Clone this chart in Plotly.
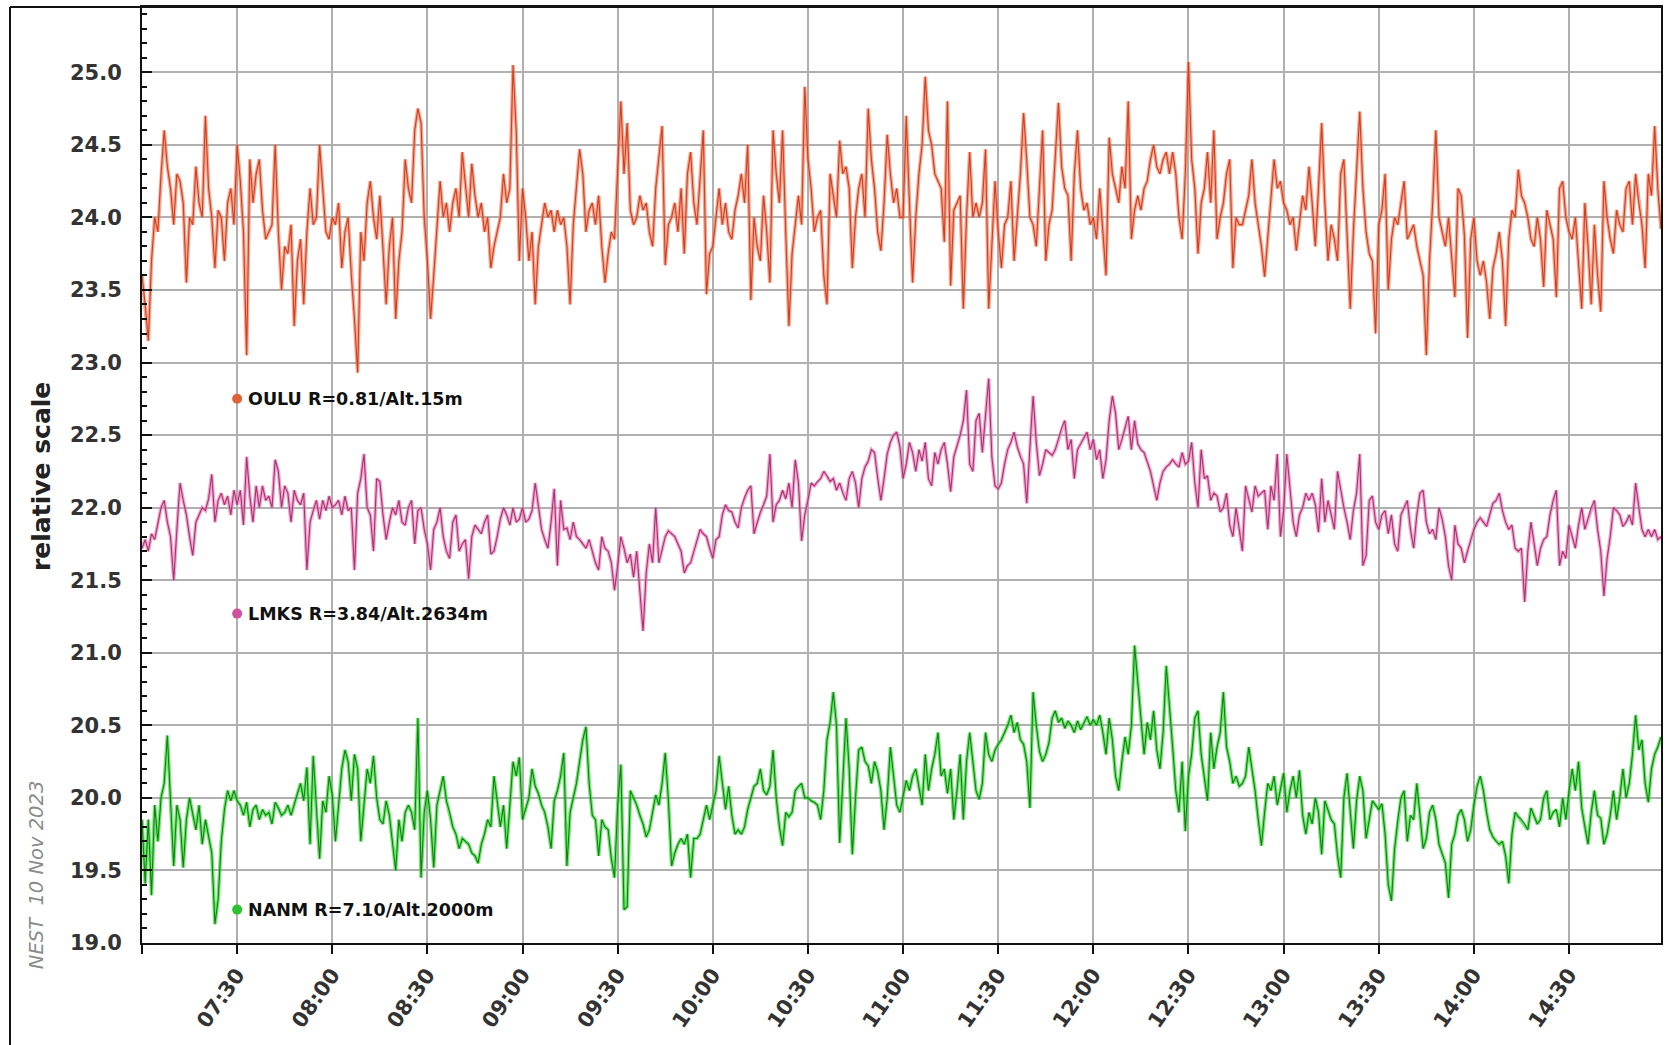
import pandas as pd
import plotly.graph_objects as go

# ---- one-minute station readings, 07:00 .. 14:59 (one row per half hour) ----
oulu = [
    23.6, 23.4, 23.15, 23.7, 24.0, 23.9, 24.3, 24.6, 24.35, 24.2, 23.95, 24.3, 24.25, 24.1, 23.55, 24.0, 23.95, 24.35, 24.1, 24.0, 24.7, 24.2, 24.0, 23.65, 24.05, 24.0, 23.7, 24.1, 24.2, 23.95,
    24.5, 24.25, 23.9, 23.05, 24.4, 24.1, 24.3, 24.4, 24.05, 23.85, 23.9, 23.95, 24.5, 23.9, 23.5, 23.8, 23.75, 23.95, 23.25, 23.7, 23.85, 23.4, 23.9, 24.2, 23.95, 24.0, 24.5, 24.2, 23.9, 23.85,
    24.0, 23.95, 24.1, 23.65, 23.9, 24.0, 23.6, 23.3, 22.93, 23.9, 23.7, 24.1, 24.25, 24.0, 23.85, 24.15, 23.8, 23.4, 23.8, 24.0, 23.3, 23.7, 23.9, 24.4, 24.2, 24.1, 24.6, 24.75, 24.65, 24.0,
    23.7, 23.3, 23.6, 23.9, 24.25, 24.0, 24.1, 23.9, 24.1, 24.2, 24.0, 24.45, 24.2, 24.0, 24.37, 24.15, 24.0, 24.1, 23.9, 24.0, 23.65, 23.8, 23.9, 24.0, 24.3, 24.1, 24.2, 25.05, 24.6, 23.7,
    24.2, 24.0, 23.7, 23.9, 23.4, 23.8, 23.95, 24.1, 24.0, 24.05, 23.9, 24.05, 23.95, 24.0, 23.8, 23.4, 23.95, 24.2, 24.47, 24.3, 23.9, 24.05, 24.1, 23.95, 24.15, 23.8, 23.55, 23.75, 23.9, 23.85,
    24.3, 24.8, 24.3, 24.65, 24.05, 23.95, 24.0, 24.15, 24.05, 24.1, 23.9, 23.8, 24.2, 24.4, 24.63, 23.67, 23.95, 24.0, 24.1, 23.9, 24.2, 23.75, 24.3, 24.45, 24.1, 23.95, 24.3, 24.6, 23.47, 23.75,
    23.8, 24.0, 24.2, 23.95, 24.1, 23.9, 23.85, 24.05, 24.15, 24.3, 24.1, 24.5, 23.43, 24.0, 23.8, 23.7, 24.15, 23.9, 23.55, 24.6, 24.3, 24.1, 24.6, 23.9, 23.25, 23.75, 23.95, 24.15, 23.95, 24.9,
    24.4, 24.2, 23.9, 24.0, 24.05, 23.6, 23.4, 24.3, 24.15, 24.0, 24.53, 24.3, 24.35, 24.2, 23.65, 24.0, 24.2, 24.3, 24.0, 24.75, 24.4, 24.2, 23.9, 23.77, 24.1, 24.57, 24.3, 24.1, 24.2, 24.0,
    24.0, 24.7, 24.1, 23.55, 24.0, 24.3, 24.5, 24.97, 24.6, 24.5, 24.3, 24.25, 24.2, 23.83, 24.8, 23.53, 24.05, 24.1, 24.15, 23.37, 24.0, 24.45, 24.0, 24.1, 24.0, 24.1, 24.47, 23.37, 23.8, 24.25,
    23.9, 23.65, 23.95, 24.0, 24.25, 23.7, 24.0, 24.3, 24.72, 24.4, 24.0, 23.95, 23.8, 24.2, 24.6, 23.7, 23.95, 24.05, 24.4, 24.79, 24.35, 24.2, 24.15, 23.7, 24.3, 24.6, 24.2, 24.05, 24.1, 23.95,
    24.0, 23.85, 24.2, 23.9, 23.6, 24.55, 24.3, 24.2, 24.1, 24.35, 24.2, 24.8, 23.85, 24.05, 24.15, 24.05, 24.2, 24.25, 24.4, 24.5, 24.35, 24.3, 24.4, 24.45, 24.3, 24.45, 24.3, 24.0, 23.85, 24.3,
    25.07, 24.4, 24.2, 23.75, 24.1, 24.2, 24.45, 24.1, 24.6, 23.85, 24.0, 24.1, 24.3, 24.4, 23.65, 24.0, 23.95, 23.95, 24.05, 24.15, 24.4, 24.1, 23.95, 23.8, 23.59, 23.85, 24.15, 24.4, 24.2, 24.25,
    24.1, 24.05, 23.95, 24.0, 23.77, 23.95, 24.15, 24.05, 24.35, 24.1, 23.8, 24.2, 24.65, 24.1, 23.7, 23.95, 23.85, 23.7, 24.3, 24.4, 23.9, 23.37, 23.9, 24.35, 24.73, 24.2, 23.9, 23.75, 23.7, 23.2,
    23.95, 24.05, 24.3, 23.5, 23.85, 24.0, 23.95, 24.1, 24.25, 23.85, 23.9, 23.95, 23.8, 23.7, 23.6, 23.05, 23.7, 24.1, 24.6, 24.0, 23.9, 23.8, 24.0, 23.7, 23.45, 24.2, 24.15, 23.88, 23.17, 23.85,
    24.0, 23.7, 23.6, 23.7, 23.55, 23.3, 23.65, 23.75, 23.9, 23.7, 23.25, 23.85, 24.05, 24.0, 24.33, 24.15, 24.1, 24.0, 23.85, 23.8, 24.0, 23.85, 23.52, 24.05, 23.95, 23.85, 23.45, 24.2, 24.25, 24.0,
    23.9, 23.85, 24.0, 23.7, 23.37, 24.1, 23.8, 23.4, 23.95, 23.6, 23.35, 24.25, 24.0, 23.85, 23.75, 24.05, 23.95, 23.9, 24.2, 24.25, 23.95, 24.3, 24.1, 23.95, 23.65, 24.3, 24.15, 24.63, 24.2, 23.92,
]

lmks = [
    21.72, 21.78, 21.7, 21.82, 21.78, 21.9, 22.0, 22.05, 21.9, 21.8, 21.5, 21.85, 22.17, 22.05, 21.95, 21.8, 21.67, 21.9, 21.95, 22.0, 21.98, 22.06, 22.23, 21.9, 22.05, 22.1, 22.02, 22.08, 21.95, 22.12,
    22.02, 22.12, 21.88, 22.35, 22.08, 21.9, 22.15, 22.0, 22.15, 22.05, 22.08, 22.0, 22.33, 22.25, 22.0, 22.15, 22.1, 21.9, 22.12, 22.05, 22.02, 22.1, 21.57, 21.9, 21.98, 22.05, 21.92, 22.05, 21.98, 22.08,
    22.0, 22.02, 22.05, 21.95, 22.08, 21.98, 22.0, 21.57, 22.1, 22.2, 22.37, 22.0, 21.95, 21.7, 22.2, 22.18, 21.95, 21.78, 21.9, 22.0, 21.95, 22.05, 21.9, 21.88, 22.0, 22.05, 21.75, 21.98, 22.0, 21.85,
    21.75, 21.57, 21.85, 21.9, 22.0, 21.8, 21.7, 21.65, 21.9, 21.95, 21.7, 21.75, 21.78, 21.51, 21.8, 21.88, 21.85, 21.82, 21.9, 21.95, 21.68, 21.7, 21.8, 21.92, 22.0, 21.95, 21.88, 22.0, 21.9, 21.92,
    22.0, 21.9, 21.92, 21.98, 22.17, 22.0, 21.85, 21.78, 21.72, 21.9, 22.13, 21.6, 22.05, 21.85, 21.86, 21.78, 21.9, 21.8, 21.78, 21.75, 21.72, 21.78, 21.7, 21.62, 21.57, 21.8, 21.72, 21.7, 21.62, 21.43,
    21.6, 21.8, 21.72, 21.62, 21.68, 21.52, 21.7, 21.45, 21.15, 21.55, 21.75, 21.62, 22.0, 21.62, 21.72, 21.8, 21.84, 21.82, 21.8, 21.75, 21.7, 21.55, 21.6, 21.62, 21.7, 21.77, 21.85, 21.82, 21.8, 21.72,
    21.65, 21.78, 21.8, 21.95, 22.02, 21.98, 21.97, 21.9, 21.86, 22.0, 22.07, 22.12, 22.15, 21.82, 21.9, 21.97, 22.02, 22.08, 22.37, 21.9, 22.02, 22.05, 22.12, 22.06, 22.17, 22.0, 22.33, 22.17, 21.77, 21.95,
    22.05, 22.17, 22.15, 22.18, 22.2, 22.25, 22.22, 22.18, 22.2, 22.12, 22.17, 22.1, 22.05, 22.2, 22.25, 22.17, 22.0, 22.2, 22.28, 22.32, 22.4, 22.38, 22.2, 22.05, 22.2, 22.37, 22.45, 22.5, 22.52, 22.42,
    22.2, 22.3, 22.45, 22.38, 22.25, 22.4, 22.32, 22.45, 22.2, 22.15, 22.38, 22.3, 22.4, 22.45, 22.3, 22.11, 22.35, 22.42, 22.5, 22.6, 22.81, 22.3, 22.25, 22.6, 22.65, 22.38, 22.65, 22.89, 22.35, 22.15,
    22.13, 22.17, 22.3, 22.4, 22.45, 22.52, 22.42, 22.35, 22.3, 22.03, 22.42, 22.77, 22.45, 22.22, 22.3, 22.4, 22.38, 22.36, 22.4, 22.47, 22.55, 22.6, 22.4, 22.47, 22.2, 22.4, 22.44, 22.48, 22.52, 22.4,
    22.47, 22.33, 22.4, 22.2, 22.33, 22.6, 22.77, 22.65, 22.4, 22.47, 22.55, 22.63, 22.4, 22.6, 22.44, 22.4, 22.38, 22.32, 22.25, 22.15, 22.05, 22.17, 22.25, 22.28, 22.3, 22.33, 22.3, 22.28, 22.38, 22.3,
    22.32, 22.45, 22.17, 22.0, 22.4, 22.2, 22.22, 22.05, 22.1, 22.08, 21.97, 22.0, 22.1, 21.88, 21.8, 22.0, 21.85, 21.7, 22.15, 22.05, 21.97, 22.15, 22.08, 22.1, 22.12, 21.85, 22.15, 22.05, 22.37, 21.8,
    21.98, 22.37, 22.12, 21.9, 21.8, 21.95, 22.0, 22.1, 22.05, 22.1, 22.02, 21.83, 22.2, 21.9, 22.05, 21.95, 21.85, 22.25, 22.12, 22.0, 21.9, 21.78, 21.98, 22.1, 22.37, 21.6, 21.67, 22.05, 22.08, 21.9,
    21.85, 21.95, 21.98, 21.82, 21.95, 21.75, 21.7, 21.95, 22.0, 22.05, 21.85, 21.72, 21.95, 22.1, 22.12, 21.9, 21.82, 21.85, 21.78, 22.0, 21.92, 21.8, 21.6, 21.5, 21.88, 21.75, 21.72, 21.62, 21.7, 21.78,
    21.85, 21.9, 21.93, 21.9, 21.87, 21.95, 22.03, 22.05, 22.1, 21.98, 21.9, 21.85, 21.88, 21.72, 21.7, 21.72, 21.35, 21.7, 21.9, 21.75, 21.6, 21.72, 21.78, 21.8, 21.95, 22.05, 22.12, 21.6, 21.7, 21.65,
    21.88, 21.8, 21.72, 21.88, 22.0, 21.85, 21.92, 22.0, 22.05, 21.85, 21.7, 21.39, 21.65, 21.8, 22.0, 21.98, 21.95, 21.87, 21.9, 21.95, 21.88, 22.17, 22.0, 21.85, 21.8, 21.85, 21.8, 21.85, 21.78, 21.8,
]

nanm = [
    19.85, 19.41, 19.85, 19.33, 19.95, 19.7, 20.0, 20.1, 20.43, 19.95, 19.53, 19.95, 19.85, 19.52, 19.85, 20.0, 19.88, 19.78, 19.95, 19.68, 19.85, 19.72, 19.62, 19.13, 19.3, 19.7, 19.92, 20.05, 19.98, 20.05,
    19.98, 19.95, 19.88, 19.97, 19.8, 19.92, 19.95, 19.85, 19.92, 19.88, 19.9, 19.82, 19.97, 19.93, 19.88, 19.9, 19.95, 19.88, 19.96, 20.03, 20.1, 19.98, 20.21, 19.68, 20.29, 19.9, 19.58, 19.98, 19.9, 20.15,
    20.02, 19.7, 19.95, 20.2, 20.33, 20.25, 19.98, 20.3, 20.2, 19.7, 19.95, 20.2, 20.1, 20.29, 20.0, 19.85, 19.82, 19.98, 19.88, 19.7, 19.5, 19.85, 19.7, 19.9, 19.95, 19.9, 19.78, 20.55, 19.45, 19.9,
    20.05, 19.85, 19.52, 19.95, 20.05, 20.15, 19.98, 19.9, 19.8, 19.75, 19.65, 19.72, 19.7, 19.68, 19.62, 19.6, 19.55, 19.68, 19.75, 19.85, 19.8, 20.15, 19.98, 19.8, 19.95, 19.65, 19.95, 20.25, 20.15, 20.28,
    19.85, 19.92, 20.0, 20.2, 20.08, 20.03, 19.95, 19.9, 19.8, 19.65, 19.98, 20.05, 20.15, 20.31, 19.53, 19.9, 20.0, 20.1, 20.25, 20.4, 20.49, 20.1, 19.88, 19.85, 19.6, 19.85, 19.8, 19.78, 19.58, 19.45,
    19.95, 20.23, 19.23, 19.25, 20.05, 20.0, 19.95, 19.88, 19.82, 19.73, 19.78, 19.9, 20.02, 19.95, 20.1, 20.31, 19.98, 19.53, 19.62, 19.68, 19.72, 19.68, 19.75, 19.45, 19.72, 19.72, 19.75, 19.85, 19.95, 19.85,
    19.95, 20.05, 20.29, 20.1, 19.92, 20.08, 19.88, 19.75, 19.78, 19.75, 19.8, 19.92, 20.0, 20.08, 20.1, 20.2, 20.05, 20.02, 20.08, 20.33, 20.0, 19.8, 19.67, 19.9, 19.87, 19.9, 20.05, 20.08, 20.1, 20.0,
    20.0, 19.98, 19.97, 19.95, 19.85, 20.05, 20.4, 20.52, 20.73, 20.5, 19.69, 20.1, 20.55, 20.2, 19.61, 20.0, 20.33, 20.35, 20.25, 20.22, 20.1, 20.25, 20.18, 20.05, 19.78, 20.0, 20.35, 20.15, 19.95, 19.9,
    20.0, 20.12, 20.05, 20.15, 20.2, 20.08, 19.95, 20.3, 20.05, 20.2, 20.3, 20.45, 20.15, 20.2, 20.03, 20.2, 19.85, 20.05, 20.3, 19.85, 20.25, 20.45, 20.25, 20.05, 19.99, 20.1, 20.45, 20.3, 20.25, 20.33,
    20.37, 20.4, 20.45, 20.5, 20.57, 20.45, 20.52, 20.4, 20.37, 20.25, 19.93, 20.73, 20.5, 20.32, 20.25, 20.3, 20.38, 20.55, 20.6, 20.52, 20.55, 20.48, 20.53, 20.5, 20.45, 20.53, 20.47, 20.52, 20.56, 20.5,
    20.54, 20.5, 20.57, 20.45, 20.3, 20.55, 20.4, 20.15, 20.05, 20.25, 20.42, 20.3, 20.5, 21.05, 20.8, 20.5, 20.3, 20.52, 20.4, 20.6, 20.33, 20.2, 20.45, 20.91, 20.65, 20.35, 20.05, 19.9, 20.25, 19.77,
    20.15, 20.3, 20.55, 20.6, 20.3, 20.15, 19.98, 20.45, 20.2, 20.35, 20.45, 20.73, 20.35, 20.25, 20.1, 20.15, 20.08, 20.1, 20.15, 20.35, 20.2, 20.05, 19.85, 19.67, 19.9, 20.1, 20.05, 20.15, 19.95, 20.05,
    20.17, 19.9, 20.05, 20.15, 20.0, 20.19, 19.88, 19.75, 19.9, 19.82, 20.0, 19.9, 19.61, 19.98, 19.92, 19.85, 19.82, 19.6, 19.45, 20.0, 20.17, 19.9, 19.65, 19.98, 20.15, 20.05, 19.72, 19.85, 19.98, 19.95,
    19.92, 19.96, 19.75, 19.4, 19.29, 19.65, 19.85, 20.0, 20.05, 19.7, 19.88, 19.85, 20.1, 19.88, 19.65, 19.72, 19.9, 19.95, 19.85, 19.68, 19.62, 19.55, 19.31, 19.68, 19.75, 19.88, 19.92, 19.85, 19.7, 19.78,
    19.95, 20.08, 20.15, 20.05, 19.9, 19.78, 19.73, 19.7, 19.68, 19.7, 19.6, 19.41, 19.75, 19.9, 19.87, 19.85, 19.82, 19.78, 19.93, 19.88, 19.82, 19.85, 20.0, 20.05, 19.85, 19.9, 19.92, 19.8, 20.0, 19.85,
    20.05, 20.2, 20.05, 20.25, 19.93, 19.8, 19.68, 19.9, 20.05, 19.88, 19.86, 19.68, 19.75, 19.88, 20.05, 19.85, 20.0, 20.2, 20.0, 20.1, 20.3, 20.57, 20.33, 20.4, 20.1, 19.97, 20.2, 20.3, 20.35, 20.42,
]

station_labels = ["OULU R=0.81/Alt.15m", "LMKS R=3.84/Alt.2634m", "NANM R=7.10/Alt.2000m"]
label_levels = [22.75, 21.27, 19.23]
tick_times = ["07:00", "07:30", "08:00", "08:30", "09:00", "09:30", "10:00", "10:30",
              "11:00", "11:30", "12:00", "12:30", "13:00", "13:30", "14:00", "14:30"]
day = "2023-11-10"

times = pd.date_range(f"{day} 07:00", periods=len(oulu), freq="1min")

series = [
    (oulu, "#cf3f22", "rgba(242,128,96,0.7)", "#e0603a"),
    (lmks, "#a8336f", "rgba(232,128,186,0.7)", "#d2509c"),
    (nanm, "#137f13", "rgba(50,220,50,0.7)", "#2fc02f"),
]

fig = go.Figure()
for values, core, halo, _ in series:
    fig.add_trace(go.Scatter(x=times, y=values, mode="lines",
                             line=dict(color=halo, width=3.6), hoverinfo="skip"))
    fig.add_trace(go.Scatter(x=times, y=values, mode="lines",
                             line=dict(color=core, width=1.1)))

# station markers and captions at 07:30
label_x = pd.Timestamp(f"{day} 07:30")
for (values, core, halo, dot), text, level in zip(series, station_labels, label_levels):
    fig.add_trace(go.Scatter(x=[label_x], y=[level], mode="markers",
                             marker=dict(color=dot, size=10, line=dict(width=0))))
    fig.add_annotation(x=label_x, y=level, xref="x", yref="y", text=text,
                       showarrow=False, xanchor="left", yanchor="middle", xshift=9,
                       font=dict(family="DejaVu Sans", size=17.5, color="#111111", weight="bold"))

W, H = 1679, 1045
L, R, T, B = 142, 18, 5, 102
pw, ph = W - L - R, H - T - B

fig.add_annotation(text="relative scale", xref="paper", yref="paper",
                   x=(42 - L) / pw, y=(H - B - 475) / ph, textangle=-90, showarrow=False,
                   xanchor="center", yanchor="middle",
                   font=dict(family="DejaVu Sans", size=25, color="#222222", weight="bold"))
fig.add_annotation(text="NEST  10 Nov 2023", xref="paper", yref="paper",
                   x=(36 - L) / pw, y=(H - B - 875) / ph, textangle=-90, showarrow=False,
                   xanchor="center", yanchor="middle",
                   font=dict(family="DejaVu Sans", size=19.5, color="#8a8a8a", style="italic"))

# outer frame on the left and top
fig.add_shape(type="line", xref="paper", yref="paper", x0=(10 - L) / pw, x1=(10 - L) / pw,
              y0=-(B + 5) / ph, y1=1, line=dict(color="#111111", width=2))
fig.add_shape(type="line", xref="paper", yref="paper", x0=(10 - L) / pw, x1=1,
              y0=1, y1=1, line=dict(color="#111111", width=2))

tick_font = dict(family="DejaVu Sans", size=21, color="#333333", weight="bold")
fig.update_xaxes(
    type="date",
    range=[f"{day} 07:00", f"{day} 14:59"],
    tickvals=[f"{day} {t}" for t in tick_times],
    ticktext=["" if t == "07:00" else t for t in tick_times],
    tickangle=-55, tickfont=tick_font,
    ticks="outside", ticklen=9, tickwidth=2, tickcolor="#111111",
    showgrid=True, gridcolor="#b0b0b0", gridwidth=1.5,
    showline=True, linecolor="#111111", linewidth=2, mirror=True, zeroline=False,
)
fig.update_yaxes(
    range=[19.0, 25.45], dtick=0.5, tick0=19.0, tickformat=".1f",
    tickfont=tick_font, ticks="inside", ticklen=10, tickwidth=2, tickcolor="#111111",
    ticklabelstandoff=14,
    minor=dict(dtick=0.1, ticks="inside", ticklen=5, tickwidth=1.5, tickcolor="#111111", showgrid=False),
    showgrid=True, gridcolor="#b0b0b0", gridwidth=1.5,
    showline=True, linecolor="#111111", linewidth=2, mirror=True, zeroline=False,
)
fig.update_layout(
    width=W, height=H, showlegend=False,
    margin=dict(l=L, r=R, t=T, b=B),
    paper_bgcolor="white", plot_bgcolor="white",
)
fig.write_html("out.html")
